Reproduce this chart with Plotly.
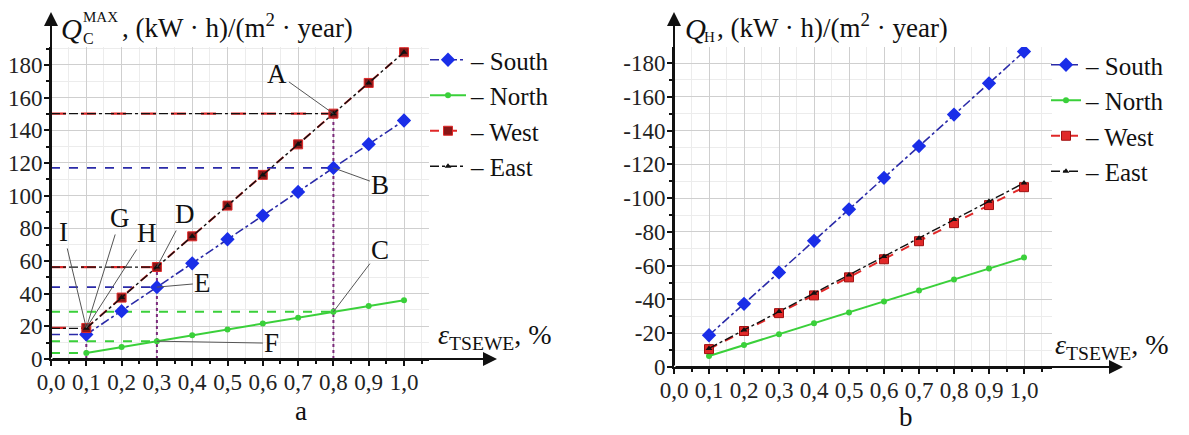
import plotly.graph_objects as go

W, H = 1189, 435

eps = [0.1, 0.2, 0.3, 0.4, 0.5, 0.6, 0.7, 0.8, 0.9, 1.0]

# Panel a: Q_C^MAX
a_south = [15, 29.3, 44, 58.6, 73.3, 87.8, 102.3, 117, 131.5, 146]
a_north = [3.7, 7.3, 10.9, 14.5, 18.1, 21.7, 25.3, 28.9, 32.4, 36]
a_west = [19, 37.6, 56.3, 75.1, 93.9, 112.7, 131.4, 150.2, 169, 187.8]
a_east = [18.8, 37.6, 56.3, 75.1, 93.9, 112.7, 131.4, 150.2, 169, 187.8]

# Panel b: Q_H
b_south = [-18.8, -37.4, -56, -74.7, -93.4, -112, -130.8, -149.5, -168, -186.8]
b_north = [-6.5, -13, -19.4, -25.9, -32.3, -38.8, -45.3, -51.8, -58.3, -64.8]
b_west = [-10.6, -21.3, -31.9, -42.4, -53.1, -63.8, -74.5, -85.2, -95.9, -106.5]
b_east = [-11, -21.9, -32.8, -43.6, -54.5, -65.4, -76.3, -87.3, -98.2, -109]

a_yticks = [0, 20, 40, 60, 80, 100, 120, 140, 160, 180]
b_yticks = [0, -20, -40, -60, -80, -100, -120, -140, -160, -180]
b_yticktext = ["0", "-20", "-40", "-60", "-80", "-100", "-120", "-140", "-160", "-180"]
xticks = [0.0, 0.1, 0.2, 0.3, 0.4, 0.5, 0.6, 0.7, 0.8, 0.9, 1.0]
xticktext = ["0,0", "0,1", "0,2", "0,3", "0,4", "0,5", "0,6", "0,7", "0,8", "0,9", "1,0"]

FONT = "Liberation Serif, Times New Roman, serif"
BLUE_L = "#2a2aa8"
BLUE_M = "#1a2ee8"
GREEN = "#3ad03a"
RED = "#e02828"
DARKRED = "#8a1616"
BLACK = "#111111"
GRID = "#cfcfcf"
MINOR = "#ececec"
PURPLE = "#7a2a7a"


def px(x):
    return x / W


def py(y):
    return 1 - y / H


fig = go.Figure()

# ---------- reference lines (panel a) ----------
for idx in [0, 2, 7]:
    xv = eps[idx]
    for series, color, dash, width in [
        (a_north, GREEN, "dash", 2),
        (a_south, BLUE_L, "dash", 1.6),
        (a_west, RED, "longdash", 2.2),
        (a_east, BLACK, "dashdot", 1.2),
    ]:
        fig.add_trace(go.Scatter(x=[0, xv], y=[series[idx], series[idx]], mode="lines",
                                 line=dict(color=color, dash=dash, width=width),
                                 showlegend=False, hoverinfo="skip", xaxis="x", yaxis="y"))
    fig.add_trace(go.Scatter(x=[xv, xv], y=[0, a_west[idx]], mode="lines",
                             line=dict(color=PURPLE, dash="dot", width=2),
                             showlegend=False, hoverinfo="skip", xaxis="x", yaxis="y"))

# ---------- main series panel a ----------
fig.add_trace(go.Scatter(x=eps, y=a_north, name="– North", mode="lines+markers",
                         line=dict(color=GREEN, width=2), marker=dict(symbol="circle", size=6, color=GREEN),
                         xaxis="x", yaxis="y", legend="legend", legendrank=2))
fig.add_trace(go.Scatter(x=eps, y=a_south, name="– South", mode="lines+markers",
                         line=dict(color=BLUE_L, width=1.6, dash="dashdot"),
                         marker=dict(symbol="diamond", size=11, color=BLUE_M),
                         xaxis="x", yaxis="y", legend="legend", legendrank=1))
fig.add_trace(go.Scatter(x=eps, y=a_west, name="– West", mode="lines+markers",
                         line=dict(color=RED, width=2, dash="dash"),
                         marker=dict(symbol="square", size=9, color=DARKRED, line=dict(color=RED, width=1)),
                         xaxis="x", yaxis="y", legend="legend", legendrank=3))
fig.add_trace(go.Scatter(x=eps, y=a_east, name="– East", mode="lines+markers",
                         line=dict(color=BLACK, width=1.4, dash="dashdot"),
                         marker=dict(symbol="triangle-up", size=6, color=BLACK),
                         xaxis="x", yaxis="y", legend="legend", legendrank=4))

# ---------- panel b ----------
fig.add_trace(go.Scatter(x=eps, y=b_north, name="– North", mode="lines+markers",
                         line=dict(color=GREEN, width=2), marker=dict(symbol="circle", size=6, color=GREEN),
                         xaxis="x2", yaxis="y2", legend="legend2", legendrank=2))
fig.add_trace(go.Scatter(x=eps, y=b_south, name="– South", mode="lines+markers",
                         line=dict(color=BLUE_L, width=1.6, dash="dashdot"),
                         marker=dict(symbol="diamond", size=11, color=BLUE_M),
                         xaxis="x2", yaxis="y2", legend="legend2", legendrank=1))
fig.add_trace(go.Scatter(x=eps, y=b_west, name="– West", mode="lines+markers",
                         line=dict(color=RED, width=2, dash="dash"),
                         marker=dict(symbol="square", size=9, color=RED, line=dict(color="#a01010", width=1)),
                         xaxis="x2", yaxis="y2", legend="legend2", legendrank=3))
fig.add_trace(go.Scatter(x=eps, y=b_east, name="– East", mode="lines+markers",
                         line=dict(color=BLACK, width=1.4, dash="dashdot"),
                         marker=dict(symbol="triangle-up", size=6, color=BLACK),
                         xaxis="x2", yaxis="y2", legend="legend2", legendrank=4))

tickfont = dict(family=FONT, size=23, color="#222")


def xaxis_cfg(domain, rng, anchor):
    return dict(domain=domain, range=rng, tickmode="array", tickvals=xticks, ticktext=xticktext,
                showgrid=True, gridcolor=GRID, gridwidth=1, zeroline=False, anchor=anchor,
                showline=True, linecolor=BLACK, linewidth=2, ticks="outside", ticklen=5,
                tickwidth=1.5, tickcolor=BLACK, tickfont=tickfont, automargin=False,
                ticklabelstandoff=-4,
                minor=dict(tickmode="linear", tick0=0, dtick=0.05, showgrid=True, gridcolor=MINOR,
                           ticks="outside", ticklen=3, tickcolor=BLACK),
                fixedrange=True)


def yaxis_cfg(domain, rng, vals, text, anchor):
    return dict(domain=domain, range=rng, tickmode="array", tickvals=vals, ticktext=text,
                showgrid=True, gridcolor=GRID, gridwidth=1, zeroline=False, anchor=anchor,
                showline=True, linecolor=BLACK, linewidth=2, ticks="outside", ticklen=5,
                tickwidth=1.5, tickcolor=BLACK, tickfont=tickfont, automargin=False,
                ticklabelstandoff=-3,
                minor=dict(tickmode="linear", tick0=0, dtick=10, showgrid=True, gridcolor=MINOR,
                           ticks="outside", ticklen=3, tickcolor=BLACK),
                fixedrange=True)


fig.update_layout(
    width=W, height=H, margin=dict(l=0, r=0, t=0, b=0, autoexpand=False),
    paper_bgcolor="white", plot_bgcolor="white",
    xaxis=xaxis_cfg([px(51), px(51 + 1.07 * 353)], [0, 1.07], "y"),
    yaxis=yaxis_cfg([py(359), py(47)], [0, 191], a_yticks, [str(v) for v in a_yticks], "x"),
    xaxis2=xaxis_cfg([px(674), px(674 + 1.08 * 350)], [0, 1.08], "y2"),
    yaxis2=yaxis_cfg([py(367), py(47)], [0, -189.5], b_yticks, b_yticktext, "x2"),
    legend=dict(x=px(425), y=py(37), xanchor="left", yanchor="top", bgcolor="rgba(0,0,0,0)",
                font=dict(family=FONT, size=25, color="#111"), traceorder="normal", itemwidth=36,
                tracegroupgap=0),
    legend2=dict(x=px(1046), y=py(42), xanchor="left", yanchor="top", bgcolor="rgba(0,0,0,0)",
                 font=dict(family=FONT, size=25, color="#111"), traceorder="normal", itemwidth=30,
                 tracegroupgap=0),
    showlegend=True,
)

ann = []
# axis arrows
for (x0, y0, x1, y1) in [(51, 359, 497, 359), (51, 359, 51, 12), (674, 367, 1123, 367), (674, 367, 674, 12)]:
    ann.append(dict(x=px(x1), y=py(y1), xref="paper", yref="paper", ax=x0 - x1, ay=y0 - y1,
                    text="", showarrow=True, arrowhead=2, arrowsize=1.4, arrowwidth=2, arrowcolor=BLACK))

# point labels panel a
labels = [
    ("A", eps[7], a_west[7], -56, -40),
    ("B", eps[7], a_south[7], 47, 17),
    ("C", eps[7], a_north[7], 47, -62),
    ("D", eps[2], a_west[2], 28, -53),
    ("E", eps[2], a_south[2], 46, -4),
    ("F", eps[2], a_north[2], 115, 2),
    ("G", eps[0], a_west[0], 34, -110),
    ("H", eps[0], a_west[0], 61, -95),
    ("I", eps[0], a_west[0], -23, -96),
]
for t, xv, yv, axp, ayp in labels:
    ann.append(dict(x=xv, y=yv, xref="x", yref="y", ax=axp, ay=ayp, text=t, showarrow=True,
                    arrowhead=0, arrowwidth=1, arrowcolor="#555", standoff=0,
                    font=dict(family=FONT, size=27, color="#111")))


def txt(x, y, text, size, xanchor="left"):
    return dict(x=px(x), y=py(y), text=text, xref="paper", yref="paper", showarrow=False,
                xanchor=xanchor, yanchor="middle", font=dict(family=FONT, size=size, color="#111"))


# titles and labels
ann += [
    txt(59, 29, "<i>Q</i>", 29),
    txt(81, 17, "MAX", 15),
    txt(81, 38, "C", 16),
    txt(120, 26, ", (kW · h)/(m<sup>2</sup> · year)", 27),
    txt(683, 29, "<i>Q</i>", 29),
    txt(702, 37, "H", 15),
    txt(715, 26, ", (kW · h)/(m<sup>2</sup> · year)", 27),
    txt(436, 336, "<i>ε</i><sub>TSEWE</sub>, %", 28),
    txt(1053, 346, "<i>ε</i><sub>TSEWE</sub>, %", 28),
    txt(301, 411, "a", 27, "center"),
    txt(906, 417, "b", 27, "center"),
]
fig.update_layout(annotations=ann)

fig.write_html("out.html")
